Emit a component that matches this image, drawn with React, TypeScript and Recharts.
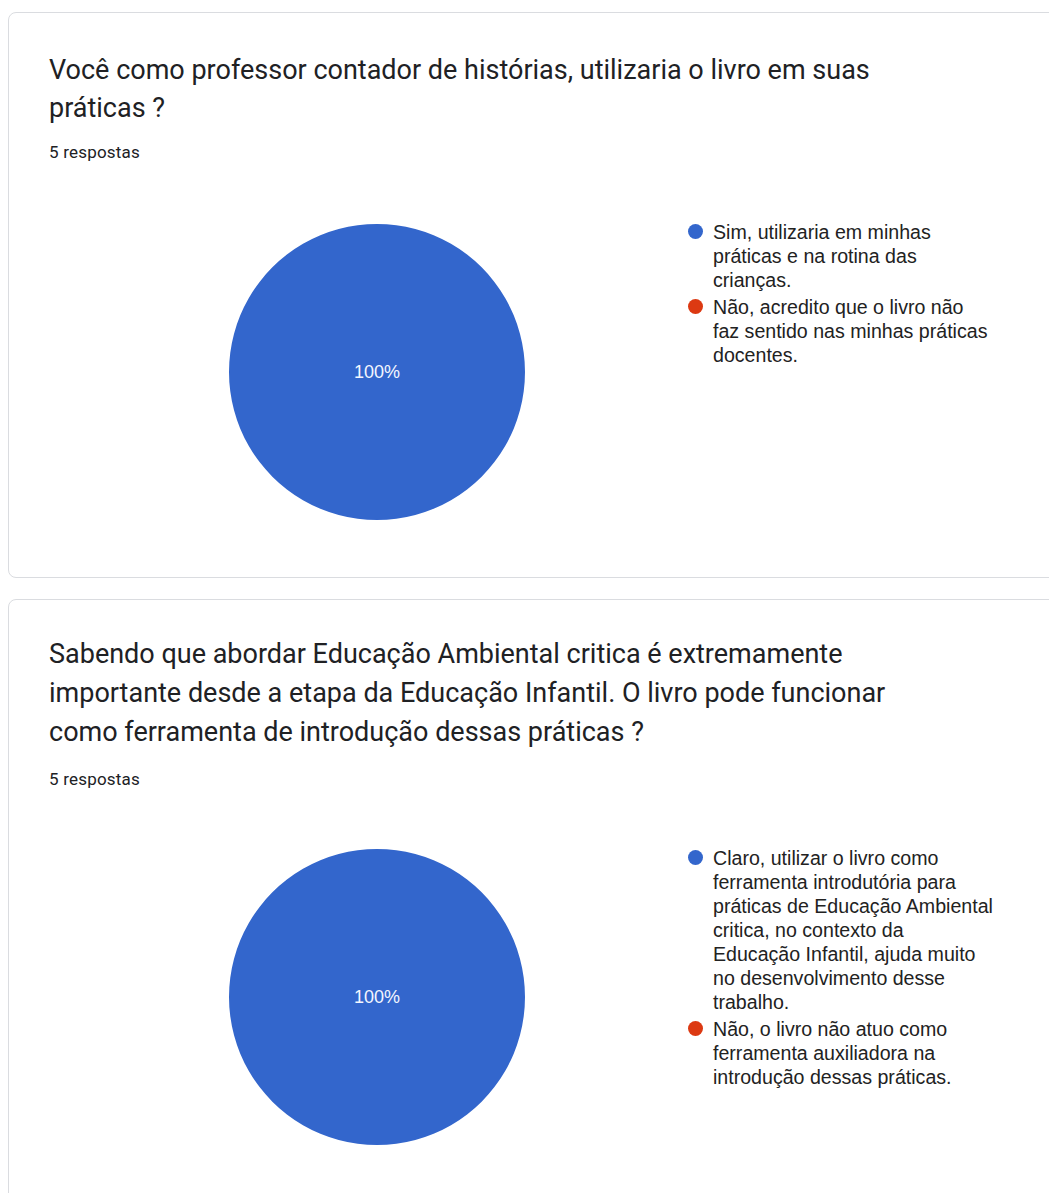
import { PieChart, Pie, Legend } from "recharts"

// answer colours (Google Forms palette)
const answerColors = ["#3366cc", "#dc3912"]

const q1Title = "Você como professor contador de histórias, utilizaria o livro em suas\npráticas ?"
const q1Answers = [
  "Sim, utilizaria em minhas\npráticas e na rotina das\ncrianças.",
  "Não, acredito que o livro não\nfaz sentido nas minhas práticas\ndocentes.",
]
const q1Counts = [5, 0]

const q2Title =
  "Sabendo que abordar Educação Ambiental critica é extremamente\nimportante desde a etapa da Educação Infantil. O livro pode funcionar\ncomo ferramenta de introdução dessas práticas ?"
const q2Answers = [
  "Claro, utilizar o livro como\nferramenta introdutória para\npráticas de Educação Ambiental\ncritica, no contexto da\nEducação Infantil, ajuda muito\nno desenvolvimento desse\ntrabalho.",
  "Não, o livro não atuo como\nferramenta auxiliadora na\nintrodução dessas práticas.",
]
const q2Counts = [5, 0]

const responsesLabel = "5 respostas"

const titleFont = "Roboto, 'Open Sans', sans-serif"
const chartFont = "'Liberation Sans', Arial, sans-serif"

const renderPercent = (props: any) => {
  const { cx, cy, percent } = props
  if (!percent) return null
  return (
    <text
      x={cx}
      y={cy}
      fill="#f4f6ff"
      textAnchor="middle"
      dominantBaseline="central"
      fontSize={18}
      fontFamily={chartFont}
    >
      {`${Math.round(percent * 100)}%`}
    </text>
  )
}

const renderLegend = (props: any) => {
  const items = props.payload || []
  return (
    <div style={{ fontFamily: chartFont, fontSize: 19.6, lineHeight: "24px", color: "#222222" }}>
      {items.map((item: any, i: number) => (
        <div key={i} style={{ position: "relative", paddingLeft: 25, marginBottom: 3 }}>
          <span
            style={{
              position: "absolute",
              left: 0,
              top: 4,
              width: 15,
              height: 15,
              borderRadius: "50%",
              background: item.color,
            }}
          />
          <span style={{ whiteSpace: "pre-line" }}>{item.value}</span>
        </div>
      ))}
    </div>
  )
}

function QuestionPie({ answers, counts, legendTop }: { answers: string[]; counts: number[]; legendTop: number }) {
  const data = answers.map((name, i) => ({ name, value: counts[i], fill: answerColors[i] }))
  return (
    <PieChart width={1049} height={360} margin={{ top: 0, right: 0, bottom: 0, left: 0 }}>
      <Pie
        data={data}
        dataKey="value"
        nameKey="name"
        cx={369}
        cy={172}
        outerRadius={148}
        startAngle={90}
        endAngle={-270}
        stroke="none"
        label={renderPercent}
        labelLine={false}
        isAnimationActive={false}
      />
      <Legend
        layout="vertical"
        align="right"
        verticalAlign="top"
        content={renderLegend}
        itemSorter={(item: any) => answers.indexOf(item.value)}
        wrapperStyle={{ left: 680, top: legendTop, width: 360, right: "auto" }}
      />
    </PieChart>
  )
}

const cardStyle: React.CSSProperties = {
  position: "absolute",
  left: 0,
  width: 1120,
  boxSizing: "border-box",
  border: "1px solid #dadce0",
  borderRadius: 8,
  background: "#ffffff",
}

const titleStyle: React.CSSProperties = {
  position: "absolute",
  left: 41,
  margin: 0,
  fontFamily: titleFont,
  fontSize: 27,
  lineHeight: "38px",
  color: "#202124",
  whiteSpace: "pre-line",
  fontWeight: 400,
}

const countStyle: React.CSSProperties = {
  position: "absolute",
  left: 41,
  fontFamily: titleFont,
  fontSize: 17,
  lineHeight: "20px",
  color: "#202124",
  letterSpacing: 0.2,
}

export default function App() {
  return (
    <div style={{ position: "relative", width: 1049, height: 1185, overflow: "hidden", background: "#ffffff" }}>
      <div style={{ ...cardStyle, top: 4, height: 566 }} />
      <div style={{ ...titleStyle, top: 43 }}>{q1Title}</div>
      <div style={{ ...countStyle, top: 134 }}>{responsesLabel}</div>
      <div style={{ position: "absolute", left: 0, top: 192 }}>
        <QuestionPie answers={q1Answers} counts={q1Counts} legendTop={20} />
      </div>

      <div style={{ ...cardStyle, top: 591, height: 700 }} />
      <div style={{ ...titleStyle, top: 627, lineHeight: "39px" }}>{q2Title}</div>
      <div style={{ ...countStyle, top: 761 }}>{responsesLabel}</div>
      <div style={{ position: "absolute", left: 0, top: 817 }}>
        <QuestionPie answers={q2Answers} counts={q2Counts} legendTop={21} />
      </div>
    </div>
  )
}
